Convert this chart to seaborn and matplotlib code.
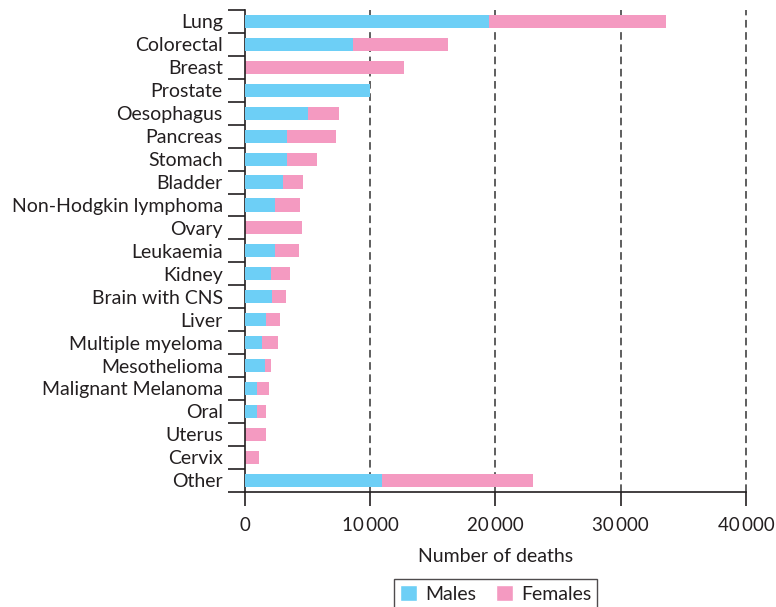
import matplotlib
matplotlib.use('Agg')
import matplotlib.pyplot as plt
import seaborn as sns
import numpy as np
import pandas as pd
from matplotlib.patches import Patch

cancers = ['Lung', 'Colorectal', 'Breast', 'Prostate', 'Oesophagus', 'Pancreas',
           'Stomach', 'Bladder', 'Non-Hodgkin lymphoma', 'Ovary', 'Leukaemia',
           'Kidney', 'Brain with CNS', 'Liver', 'Multiple myeloma', 'Mesothelioma',
           'Malignant Melanoma', 'Oral', 'Uterus', 'Cervix', 'Other']
males = [19500, 8650, 0, 10000, 5000, 3380, 3380, 3060, 2420, 0, 2420,
         2100, 2160, 1680, 1360, 1620, 990, 990, 0, 0, 10940]
females = [14100, 7560, 12700, 0, 2500, 3890, 2370, 1570, 1970, 4550, 1890,
           1490, 1110, 1110, 1280, 450, 930, 690, 1680, 1120, 12060]
xticks = [0, 10000, 20000, 30000, 40000]
xtick_labels = ['0', '10\u2009000', '20\u2009000', '30\u2009000', '40\u2009000']

blue = '#6dcff6'
pink = '#f49ac1'
ink = '#231f20'

df = pd.DataFrame({'cancer': cancers, 'males': males, 'females': females})
df['total'] = df['males'] + df['females']

sns.set_style('white')
plt.rcParams['font.family'] = ['Lato', 'DejaVu Sans']
plt.rcParams['text.color'] = ink
plt.rcParams['axes.labelcolor'] = ink
plt.rcParams['xtick.color'] = ink
plt.rcParams['ytick.color'] = ink

fig = plt.figure(figsize=(7.76, 6.07), dpi=100)
ax = fig.add_axes([0.3157, 0.19, 0.6456, 0.7935])

for x in xticks[1:]:
    ax.axvline(x, color='#333333', lw=1.1, ls=(0, (5, 3)), zorder=0, clip_on=False)

sns.barplot(data=df, x='total', y='cancer', orient='h', color=pink,
            saturation=1, width=0.57, linewidth=0, ax=ax, zorder=2)
sns.barplot(data=df, x='males', y='cancer', orient='h', color=blue,
            saturation=1, width=0.57, linewidth=0, ax=ax, zorder=3)

n = len(cancers)
ax.set_ylim(n - 0.5, -0.5)
ax.set_xlim(0, 40000)
ax.set_xticks(xticks)
ax.set_xticklabels(xtick_labels, fontsize=13.5)
ax.set_yticks(range(n))
ax.set_yticklabels(cancers, fontsize=14)
ax.set_yticks(np.arange(-0.5, n, 1), minor=True)
ax.tick_params(axis='y', which='major', left=True, length=0, pad=16)
ax.tick_params(axis='y', which='minor', left=True, length=12, width=1.2, direction='out')
ax.tick_params(axis='x', which='major', bottom=True, length=10, width=1.2, direction='out', pad=8)
ax.set_xlabel('Number of deaths', fontsize=14, labelpad=10)
ax.set_ylabel('')

for side in ['top', 'right']:
    ax.spines[side].set_visible(False)
for side in ['left', 'bottom']:
    ax.spines[side].set_color(ink)
    ax.spines[side].set_linewidth(1.2)

handles = [Patch(facecolor=blue, label='Males'), Patch(facecolor=pink, label='Females')]
leg = fig.legend(handles=handles, loc='upper center', bbox_to_anchor=(0.6385, 0.062),
                 ncol=2, fontsize=14, frameon=True, fancybox=False,
                 handlelength=0.9, handleheight=0.9, handletextpad=0.4,
                 columnspacing=1.0, borderpad=0.3)
leg.get_frame().set_edgecolor(ink)
leg.get_frame().set_linewidth(1.0)

fig.savefig('out.png', dpi=100)
